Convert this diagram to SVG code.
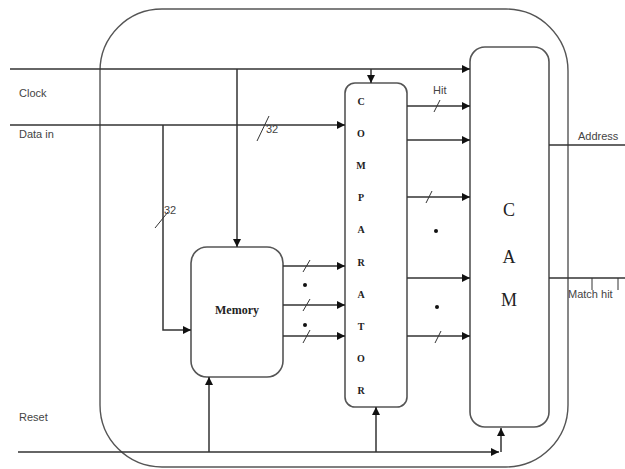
<svg xmlns="http://www.w3.org/2000/svg" width="625" height="469" viewBox="0 0 625 469">
<style>
.ln{stroke:#333;stroke-width:1.5;fill:none}
.box{stroke:#555;stroke-width:1.6;fill:#fff}
.lbl{font-family:"Liberation Sans",Arial,sans-serif;font-size:11px;fill:#444}
.sl{font-family:"Liberation Serif","Times New Roman",serif;font-weight:bold;fill:#222}
</style>
<defs>
<marker id="ah" viewBox="0 0 10 10" refX="10" refY="5" markerWidth="8" markerHeight="8" markerUnits="userSpaceOnUse" orient="auto">
<path d="M0,0 L10,5 L0,10 z" fill="#111"/>
</marker>
</defs>
<rect id="outer" x="100" y="9" width="468" height="458" rx="62" ry="62" fill="none" stroke="#555" stroke-width="1.4"/>
<g id="memory"><rect class="box" x="191" y="247" width="92" height="130" rx="16"/><text class="sl" x="237" y="314" font-size="12" text-anchor="middle">Memory</text></g>
<g id="comparator"><rect class="box" x="345" y="83" width="62" height="324" rx="10"/>
<g class="sl" font-size="10" text-anchor="middle">
<text x="361" y="105">C</text><text x="361" y="137">O</text><text x="361" y="169">M</text><text x="361" y="201">P</text><text x="361" y="233">A</text><text x="361" y="266">R</text><text x="361" y="298">A</text><text x="361" y="330">T</text><text x="361" y="362">O</text><text x="361" y="394">R</text>
</g></g>
<g id="cam"><rect class="box" x="470" y="47" width="79" height="380" rx="15"/>
<g class="sl" font-size="18" font-weight="normal" text-anchor="middle" style="font-weight:normal"><text x="509" y="216">C</text><text x="509" y="263">A</text><text x="509" y="306">M</text></g></g>
<g id="connectors" class="ln">
<line x1="10" y1="69" x2="470" y2="69" marker-end="url(#ah)"/>
<line x1="10" y1="125" x2="345" y2="125" marker-end="url(#ah)"/>
<line x1="237" y1="69" x2="237" y2="247" marker-end="url(#ah)"/>
<path d="M163,125 V330 H191" marker-end="url(#ah)"/>
<line x1="371" y1="69" x2="371" y2="83" marker-end="url(#ah)"/>
<line x1="283" y1="266" x2="345" y2="266" marker-end="url(#ah)"/>
<line x1="283" y1="305" x2="345" y2="305" marker-end="url(#ah)"/>
<line x1="283" y1="336" x2="345" y2="336" marker-end="url(#ah)"/>
<line x1="407" y1="106" x2="470" y2="106" marker-end="url(#ah)"/>
<line x1="407" y1="140" x2="470" y2="140" marker-end="url(#ah)"/>
<line x1="407" y1="197" x2="470" y2="197" marker-end="url(#ah)"/>
<line x1="407" y1="278" x2="470" y2="278" marker-end="url(#ah)"/>
<line x1="407" y1="336" x2="470" y2="336" marker-end="url(#ah)"/>
<line x1="549" y1="145" x2="625" y2="145"/>
<line x1="549" y1="278" x2="625" y2="278"/>
<line x1="592" y1="278" x2="592" y2="290" stroke-width="1"/>
<line x1="618" y1="278" x2="618" y2="290" stroke-width="1"/>
<line x1="18" y1="452" x2="499" y2="452" marker-end="url(#ah)"/>
<line x1="501" y1="452" x2="501" y2="428" marker-end="url(#ah)"/>
<line x1="209" y1="452" x2="209" y2="377" marker-end="url(#ah)"/>
<line x1="376" y1="452" x2="376" y2="407" marker-end="url(#ah)"/>
<g stroke-width="1">
<line x1="257" y1="141" x2="269" y2="116"/>
<line x1="155" y1="228" x2="168" y2="212"/>
<line x1="303" y1="272" x2="310" y2="260"/>
<line x1="303" y1="311" x2="310" y2="299"/>
<line x1="303" y1="343" x2="310" y2="330"/>
<line x1="434" y1="112" x2="440" y2="100"/>
<line x1="426" y1="203" x2="432" y2="191"/>
<line x1="435" y1="343" x2="441" y2="331"/>
</g>
</g>
<g fill="#111">
<circle cx="305" cy="285" r="2"/><circle cx="305" cy="325" r="2"/>
<circle cx="436" cy="231" r="2"/><circle cx="437" cy="307" r="2"/>
</g>
<g class="lbl">
<text x="19" y="97">Clock</text>
<text x="19" y="138">Data in</text>
<text x="266" y="133">32</text>
<text x="164" y="214">32</text>
<text x="433" y="94">Hit</text>
<text x="578" y="140">Address</text>
<text x="568" y="298">Match hit</text>
<text x="19" y="421">Reset</text>
</g>
</svg>
